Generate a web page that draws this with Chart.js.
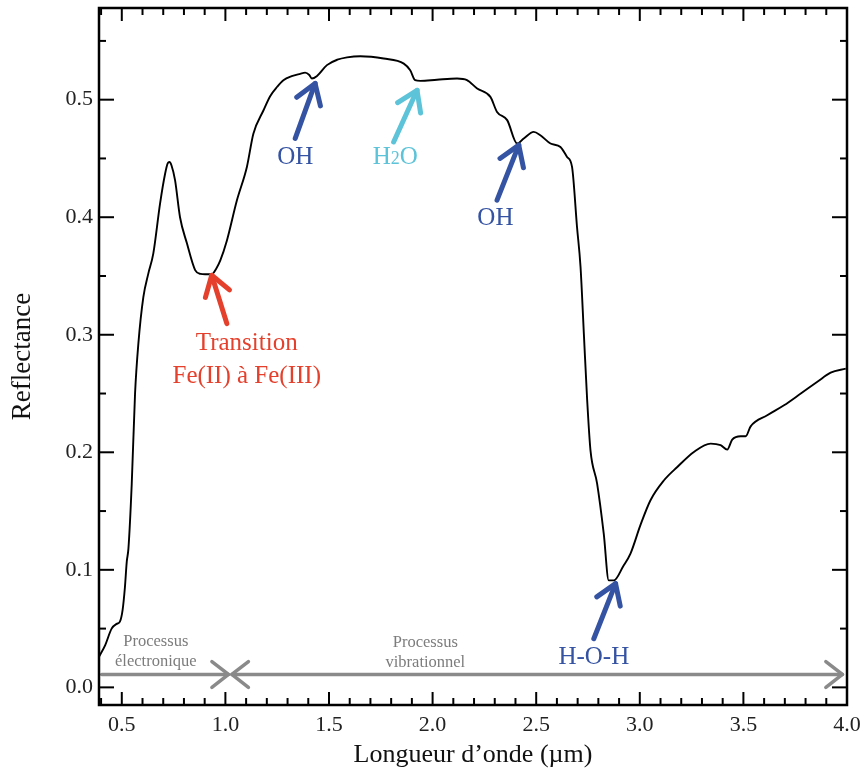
<!DOCTYPE html>
<html><head><meta charset="utf-8">
<style>html,body{margin:0;padding:0;background:#fff;} canvas{display:block;}</style>
<script src="https://cdn.jsdelivr.net/npm/chart.js@4.4.1/dist/chart.umd.min.js"></script>
</head><body>
<canvas id="c" width="867" height="773"></canvas>
<script>
// ---- Data ----
const wavelength = [0.39,0.42,0.451,0.475,0.491,0.504,0.515,0.524,0.532,0.548,0.564,0.580,0.604,0.628,0.652,0.685,0.709,0.722,0.730,0.740,0.757,0.781,0.814,0.854,0.880,0.902,0.934,0.955,0.975,1.007,1.055,1.104,1.135,1.184,1.216,1.250,1.280,1.320,1.361,1.385,1.405,1.417,1.441,1.490,1.540,1.587,1.651,1.764,1.861,1.892,1.916,1.941,2.021,2.118,2.166,2.215,2.279,2.311,2.360,2.408,2.440,2.488,2.520,2.569,2.617,2.649,2.673,2.697,2.714,2.730,2.746,2.762,2.794,2.826,2.850,2.875,2.920,2.955,3.003,3.051,3.116,3.181,3.261,3.342,3.390,3.422,3.446,3.487,3.511,3.535,3.615,3.696,3.777,3.857,3.921,3.994];
const reflectance = [0.026,0.036,0.050,0.054,0.056,0.066,0.085,0.107,0.118,0.173,0.250,0.2925,0.332,0.352,0.369,0.412,0.437,0.446,0.447,0.444,0.4315,0.400,0.378,0.355,0.3518,0.3515,0.3515,0.356,0.363,0.380,0.414,0.443,0.471,0.491,0.503,0.511,0.5166,0.520,0.522,0.523,0.521,0.518,0.520,0.5294,0.534,0.536,0.537,0.535,0.5307,0.525,0.5166,0.516,0.517,0.518,0.5166,0.5095,0.5024,0.4896,0.4826,0.4627,0.467,0.4726,0.4698,0.4627,0.4598,0.4513,0.4428,0.3917,0.3577,0.301,0.2443,0.2017,0.1734,0.1308,0.091,0.091,0.103,0.1138,0.138,0.159,0.176,0.1875,0.2003,0.2074,0.206,0.2023,0.2108,0.2136,0.2136,0.2221,0.2315,0.240,0.250,0.260,0.2678,0.2712];

const xTickValues = [0.5,1.0,1.5,2.0,2.5,3.0,3.5,4.0];
const yTickValues = [0.0,0.1,0.2,0.3,0.4,0.5];
const xTitle = 'Longueur d’onde (µm)';
const yTitle = 'Reflectance';

// Band annotations (arrow tip / tail and label anchor in data units)
const bandLabel   = [['Transition','Fe(II) à Fe(III)'], ['OH'], ['H2O'], ['OH'], ['H-O-H']];
const bandColor   = ['#e5402c', '#3553a3', '#5cc3d8', '#3553a3', '#3553a3'];
const arrowTipX   = [0.934, 1.433, 1.925, 2.416, 2.883];
const arrowTipY   = [0.3506, 0.5138, 0.508, 0.4613, 0.0883];
const arrowTailX  = [1.007, 1.337, 1.812, 2.311, 2.778];
const arrowTailY  = [0.3095, 0.467, 0.464, 0.4145, 0.0414];
const labelX      = [1.103, 1.337, 1.820, 2.303, 2.778];
const labelY      = [0.2925, 0.4505, 0.450, 0.3989, 0.0258];

// Process ranges (grey double arrows)
const processName  = [['Processus','électronique'], ['Processus','vibrationnel']];
const processStart = [0.403, 1.031];
const processEnd   = [1.015, 3.978];
const processLabelX = [0.664, 1.965];
const processLabelY = [0.0386, 0.0377];
const processY = 0.011;

const points = wavelength.map((w,i)=>({x:w, y:reflectance[i]}));
const SERIF = '"Liberation Serif", "Times New Roman", serif';

function line(ctx,x1,y1,x2,y2){ctx.beginPath();ctx.moveTo(x1,y1);ctx.lineTo(x2,y2);ctx.stroke();}
function head(ctx,tx,ty,fx,fy,len,ang){
  const a = Math.atan2(fy-ty, fx-tx);
  ctx.beginPath();
  ctx.moveTo(tx+len*Math.cos(a+ang), ty+len*Math.sin(a+ang));
  ctx.lineTo(tx,ty);
  ctx.lineTo(tx+len*Math.cos(a-ang), ty+len*Math.sin(a-ang));
  ctx.stroke();
}

const framePlugin = {
  id:'frame',
  afterDraw(chart){
    const {ctx, chartArea:a, scales:{x,y}} = chart;
    ctx.save();
    ctx.strokeStyle='#000';
    ctx.lineWidth=2;
    for(let i=4;i<=40;i++){
      const v=i/10, major=(i%5===0), len=major?13:7, px=x.getPixelForValue(v);
      line(ctx,px,a.bottom,px,a.bottom-len);
      line(ctx,px,a.top,px,a.top+len);
    }
    for(let i=0;i<=11;i++){
      const v=i*0.05, major=(i%2===0), len=major?15:7, py=y.getPixelForValue(v);
      line(ctx,a.left,py,a.left+len,py);
      line(ctx,a.right,py,a.right-len,py);
    }
    ctx.lineWidth=2.5;
    ctx.strokeRect(a.left,a.top,a.right-a.left,a.bottom-a.top);
    ctx.restore();
  }
};

const annotPlugin = {
  id:'annot',
  afterDatasetsDraw(chart){
    const {ctx, scales:{x,y}} = chart;
    ctx.save();
    ctx.lineCap='round'; ctx.lineJoin='round';
    // grey process arrows
    ctx.strokeStyle='#8a8a8a'; ctx.lineWidth=3.5;
    const gy=y.getPixelForValue(processY);
    for(let i=0;i<processStart.length;i++){
      const x1=x.getPixelForValue(processStart[i]), x2=x.getPixelForValue(processEnd[i]);
      line(ctx,x1,gy,x2,gy);
      head(ctx,x2,gy,x1,gy,21,0.66);
      if(i>0) head(ctx,x1,gy,x2,gy,21,0.66);
      ctx.fillStyle='#7c7c7c'; ctx.font='16.5px '+SERIF; ctx.textAlign='center'; ctx.textBaseline='middle';
      const lx=x.getPixelForValue(processLabelX[i]), ly=y.getPixelForValue(processLabelY[i]);
      processName[i].forEach((t,k)=>ctx.fillText(t,lx,ly+k*20));
    }
    // band arrows
    const F=25, FS=18;
    for(let i=0;i<bandLabel.length;i++){
      const tx=x.getPixelForValue(arrowTipX[i]), ty=y.getPixelForValue(arrowTipY[i]);
      const fx=x.getPixelForValue(arrowTailX[i]), fy=y.getPixelForValue(arrowTailY[i]);
      ctx.strokeStyle=bandColor[i]; ctx.lineWidth=5;
      line(ctx,fx,fy,tx,ty);
      head(ctx,tx,ty,fx,fy,23,0.58);
      ctx.fillStyle=bandColor[i]; ctx.textBaseline='middle';
      const lx=x.getPixelForValue(labelX[i]), ly=y.getPixelForValue(labelY[i]);
      bandLabel[i].forEach((t,k)=>{
        if(t==='H2O'){
          ctx.font=F+'px '+SERIF;
          const wH=ctx.measureText('H').width, wO=ctx.measureText('O').width;
          const asc=ctx.measureText('H').actualBoundingBoxAscent;
          ctx.font=FS+'px '+SERIF; const w2=ctx.measureText('2').width;
          const total=wH+w2+wO; const sx=lx-total/2;
          const base=ly+asc/2;
          ctx.textAlign='left'; ctx.textBaseline='alphabetic';
          ctx.font=F+'px '+SERIF; ctx.fillText('H',sx,base);
          ctx.font=FS+'px '+SERIF; ctx.fillText('2',sx+wH,base);
          ctx.font=F+'px '+SERIF; ctx.fillText('O',sx+wH+w2,base);
          ctx.textBaseline='middle';
        } else {
          ctx.font=F+'px '+SERIF; ctx.textAlign='center';
          ctx.fillText(t,lx,ly+k*33);
        }
      });
    }
    ctx.restore();
  }
};

new Chart(document.getElementById('c'),{
  type:'line',
  data:{datasets:[{data:points, borderColor:'#000', borderWidth:1.9, pointRadius:0, cubicInterpolationMode:'monotone', fill:false}]},
  options:{
    responsive:false, animation:false, devicePixelRatio:1,
    layout:{padding:{left:0,right:20,top:8,bottom:0}},
    plugins:{legend:{display:false}, tooltip:{enabled:false}},
    scales:{
      x:{type:'linear', min:0.39, max:4.0,
        afterBuildTicks:s=>{s.ticks=xTickValues.map(v=>({value:v}));},
        afterFit:s=>{s.height=68; s.paddingLeft=0; s.paddingRight=0;},
        ticks:{callback:v=>Number(v).toFixed(1), font:{family:SERIF,size:22}, color:'#222', padding:7, maxRotation:0, autoSkip:false},
        grid:{display:false, drawTicks:false}, border:{display:false},
        title:{display:true, text:xTitle, font:{family:SERIF,size:26}, color:'#111', padding:{top:0,bottom:2}}
      },
      y:{type:'linear', min:-0.015, max:0.578,
        afterBuildTicks:s=>{s.ticks=yTickValues.map(v=>({value:v}));},
        afterFit:s=>{s.width=99; s.paddingTop=0; s.paddingBottom=0;},
        ticks:{callback:v=>Number(v).toFixed(1), font:{family:SERIF,size:22}, color:'#222', padding:6, autoSkip:false},
        grid:{display:false, drawTicks:false}, border:{display:false},
        title:{display:true, text:yTitle, font:{family:SERIF,size:27}, color:'#111', padding:{top:7,bottom:0}}
      }
    }
  },
  plugins:[annotPlugin, framePlugin]
});
</script>
</body></html>
